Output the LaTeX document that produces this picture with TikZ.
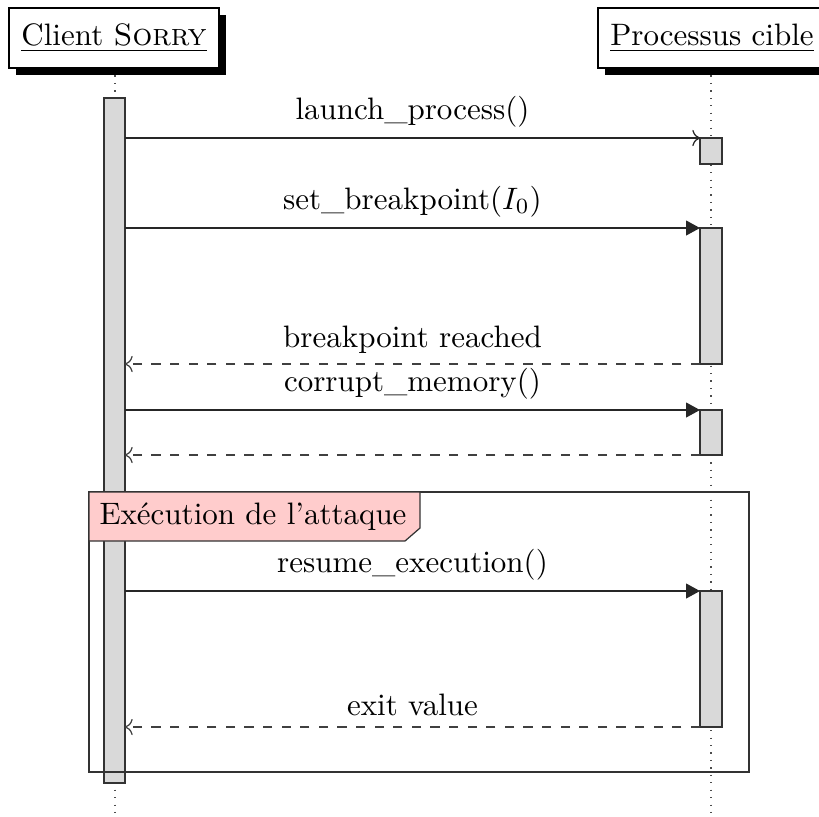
\documentclass[tikz,border=0pt]{standalone}
\usetikzlibrary{arrows.meta}
\begin{document}
\begin{tikzpicture}[x=0.3226pt,y=-0.3226pt,
  lifeline/.style={dotted,black!70},
  bar/.style={draw=black!80,fill=gray!30},
  hdrbox/.style={draw,fill=white,inner sep=0pt,minimum height=19.35pt},
  callmsg/.style={black!85,-{Triangle[length=4.5pt,width=4.8pt]}},
  firstmsg/.style={black!85,->},
  retmsg/.style={->,dashed,black!75},
  msglabel/.style={above,black,font=\normalsize}]
\useasboundingbox (0,0) rectangle (819,816);
% lifelines
\coordinate (cl0) at (115,68);
\coordinate (cl1) at (115,816);
\coordinate (pl0) at (711,68);
\coordinate (pl1) at (711,816);
\draw[lifeline] (cl0) -- (cl1);
\draw[lifeline] (pl0) -- (pl1);
% headers with shadows
\fill[black] (16,15) rectangle (226,75);
\node[hdrbox,minimum width=67.75pt] (client) at (114,38) {\underline{Client \textsc{Sorry}}};
\fill[black] (605,15) rectangle (880,75);
\draw[fill=white] (598,8) rectangle (870,68);
\node[inner sep=0pt] (proc) at (712,38) {\underline{Processus cible}};
% activation bars
\draw[bar] (104,98) rectangle (125,783);
\draw[bar] (700,138) rectangle (722,164);
\draw[bar] (700,228) rectangle (722,364);
\draw[bar] (700,410) rectangle (722,455);
\draw[bar] (700,591) rectangle (722,727);
% frame
\draw[black!80] (89,492) rectangle (749,772);
\draw[black!80,fill=red!20] (89,492) -- (420,492) -- (420,528) -- (405,541) -- (89,541) -- cycle;
\node (frlabel) at (253,517) {Exécution de l'attaque};
% message end points
\coordinate (c1) at (125,138); \coordinate (p1) at (700,138);
\coordinate (c2) at (125,228); \coordinate (p2) at (700,228);
\coordinate (c3) at (125,364); \coordinate (p3) at (700,364);
\coordinate (c4) at (125,410); \coordinate (p4) at (700,410);
\coordinate (c5) at (125,455); \coordinate (p5) at (700,455);
\coordinate (c6) at (125,591); \coordinate (p6) at (700,591);
\coordinate (c7) at (125,727); \coordinate (p7) at (700,727);
% messages
\draw[firstmsg] (c1) -- node[msglabel] (m1) {launch\_process()} (p1);
\draw[callmsg] (c2) -- node[msglabel] (m2) {set\_breakpoint($I_0$)} (p2);
\draw[retmsg] (p3) -- node[msglabel] (m3) {breakpoint reached} (c3);
\draw[callmsg] (c4) -- node[msglabel] (m4) {corrupt\_memory()} (p4);
\draw[retmsg] (p5) -- (c5);
\draw[callmsg] (c6) -- node[msglabel] (m6) {resume\_execution()} (p6);
\draw[retmsg] (p7) -- node[msglabel] (m7) {exit value} (c7);
\end{tikzpicture}
\end{document}
